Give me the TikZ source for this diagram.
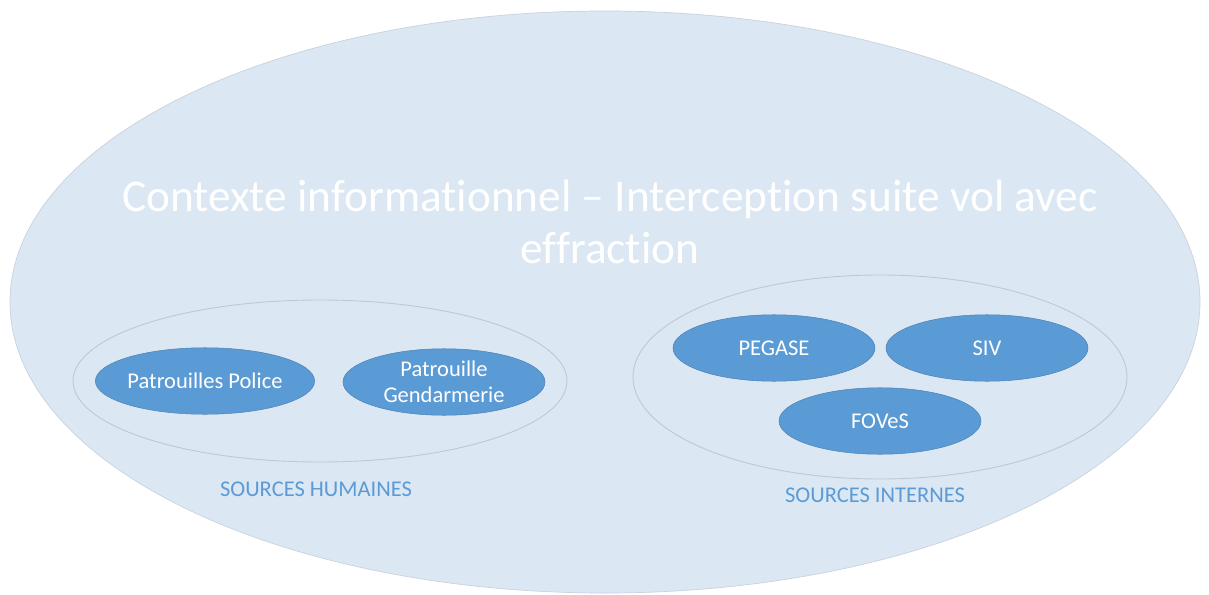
\documentclass[tikz,border=0pt]{standalone}
\usepackage{fontspec}
\setmainfont{Carlito}[Ligatures=NoCommon]
\usetikzlibrary{shapes.geometric, positioning}

\definecolor{ctxfill}{HTML}{DCE7F4}
\definecolor{grpline}{HTML}{BCC8D4}
\definecolor{srcfill}{HTML}{5B9BD5}
\definecolor{lbltext}{HTML}{5B9BD5}

\tikzset{
	context/.style={shape=ellipse, fill=ctxfill, draw=ctxfill!80!gray, line width=0.4pt, inner sep=0pt},
	group/.style={shape=ellipse, draw=grpline, line width=0.5pt, inner sep=0pt, minimum width=9.88cm},
	source/.style={shape=ellipse, fill=srcfill, draw=srcfill!85!black, line width=0.3pt, text=white, align=center, inner sep=0pt, minimum width=4.04cm, minimum height=1.33cm, font=\fontsize{12.8}{15}\selectfont},
	grouplabel/.style={text=lbltext, font=\fontsize{12.8}{15}\selectfont}
}

\begin{document}
\begin{tikzpicture}
			\useasboundingbox[fill=white] (0, 0) rectangle (24.18, 11.88);
			% Contexte:
			\node[context, minimum width=23.8cm, minimum height=11.64cm] (ctx) at (12.1, 5.84){};
			\node[text=white, align=center, font=\fontsize{25.8}{30}\selectfont] (title) at (12.2, 7.44){Contexte informationnel -- Interception suite vol avec\\effraction};
			% Sources humaines:
			\node[group, minimum height=3.24cm] (humaines) at (6.4, 4.26){};
			\node[source] (police) at (4.1, 4.26){Patrouilles Police};
			\node[source] (gendarmerie) at (8.88, 4.24){Patrouille\\Gendarmerie};
			\node[grouplabel] (lblhumaines) at (6.32, 2.1){SOURCES HUMAINES};
			% Sources internes:
			\node[group, minimum height=4.08cm] (internes) at (17.6, 4.34){};
			\node[source] (pegase) at (15.48, 4.92){PEGASE};
			\node[source] (siv) at (19.74, 4.92){SIV};
			\node[source] (foves) at (17.6, 3.46){FOVeS};
			\node[grouplabel] (lblinternes) at (17.5, 1.98){SOURCES INTERNES};
		\end{tikzpicture}
\end{document}
